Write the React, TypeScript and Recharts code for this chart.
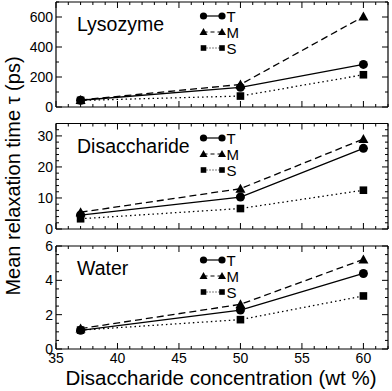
import React from 'react';
import { LineChart, Line, XAxis, YAxis, Legend } from 'recharts';

// ---- data ----
const concentrations = [37, 50, 60];
const seriesNames = ['T', 'M', 'S'];

const lysozymeT = [45, 131, 284];
const lysozymeM = [47, 150, 603];
const lysozymeS = [44, 73, 215];

const disaccharideT = [4.5, 10.3, 26.0];
const disaccharideM = [5.4, 13.0, 29.0];
const disaccharideS = [3.3, 6.6, 12.5];

const waterT = [1.09, 2.27, 4.4];
const waterM = [1.19, 2.6, 5.22];
const waterS = [1.1, 1.71, 3.09];

const xMajorTicks = [35, 40, 45, 50, 55, 60];
const xAllTicks = Array.from({ length: 28 }, (_, i) => 35 + i);

const lysozymeYMajor = [0, 200, 400, 600];
const disaccharideYMajor = [0, 10, 20, 30];
const waterYMajor = [0, 2, 4, 6];

const FONT = '"Liberation Sans", Arial, Helvetica, sans-serif';

const buildRows = (t: number[], m: number[], s: number[]) =>
  concentrations.map((c, i) => ({ x: c, T: t[i], M: m[i], S: s[i] }));

const stepTicks = (max: number, step: number) =>
  Array.from({ length: Math.round(max / step) + 1 }, (_, i) => +(i * step).toFixed(3));

const panels = [
  {
    name: 'Lysozyme',
    rows: buildRows(lysozymeT, lysozymeM, lysozymeS),
    yMax: 700,
    yMajor: lysozymeYMajor,
    yTicks: stepTicks(700, 100),
    top: 0,
    height: 117,
    marginTop: 2,
    xh: 10,
    showX: false,
  },
  {
    name: 'Disaccharide',
    rows: buildRows(disaccharideT, disaccharideM, disaccharideS),
    yMax: 34,
    yMajor: disaccharideYMajor,
    yTicks: stepTicks(34, 2),
    top: 114,
    height: 125,
    marginTop: 9.5,
    xh: 10,
    showX: false,
  },
  {
    name: 'Water',
    rows: buildRows(waterT, waterM, waterS),
    yMax: 6,
    yMajor: waterYMajor,
    yTicks: stepTicks(6, 0.5),
    top: 236,
    height: 153,
    marginTop: 10,
    xh: 40,
    showX: true,
  },
];

// ---- markers ----
const CircleDot = (p: any) =>
  p.cx == null ? <g /> : <circle cx={p.cx} cy={p.cy} r={4.5} fill="#000" stroke="none" />;
const TriDot = (p: any) =>
  p.cx == null ? (
    <g />
  ) : (
    <polygon
      points={`${p.cx - 5},${p.cy + 4} ${p.cx + 5},${p.cy + 4} ${p.cx},${p.cy - 5}`}
      fill="#000"
    />
  );
const SqDot = (p: any) =>
  p.cx == null ? <g /> : <rect x={p.cx - 3.8} y={p.cy - 3.8} width={7.6} height={7.6} fill="#000" />;

// ---- ticks ----
const makeXBottomTick = (showLabels: boolean) => (props: any) => {
  const { x, y, payload } = props;
  const major = xMajorTicks.includes(payload.value);
  return (
    <g>
      <line x1={x} y1={y} x2={x} y2={y - (major ? 6 : 3)} stroke="#000" strokeWidth={1} />
      {showLabels && major && (
        <text x={x} y={y + 14} textAnchor="middle" fontSize={14} fill="#000" fontFamily={FONT}>
          {payload.value}
        </text>
      )}
    </g>
  );
};
const XTopTick = (props: any) => {
  const { x, y, payload } = props;
  const major = xMajorTicks.includes(payload.value);
  return <line x1={x} y1={y} x2={x} y2={y + (major ? 6 : 3)} stroke="#000" strokeWidth={1} />;
};
const makeYLeftTick = (majors: number[]) => (props: any) => {
  const { x, y, payload } = props;
  const major = majors.includes(payload.value);
  return (
    <g>
      <line x1={x} y1={y} x2={x + (major ? 6 : 3)} y2={y} stroke="#000" strokeWidth={1} />
      {major && (
        <text x={x - 3} y={y} dy={5} textAnchor="end" fontSize={14} fill="#000" fontFamily={FONT}>
          {payload.value}
        </text>
      )}
    </g>
  );
};
const makeYRightTick = (majors: number[]) => (props: any) => {
  const { x, y, payload } = props;
  const major = majors.includes(payload.value);
  return <line x1={x} y1={y} x2={x - (major ? 6 : 3)} y2={y} stroke="#000" strokeWidth={1} />;
};

// ---- legend ----
const legendMarker = (name: string, cx: number, cy: number) => {
  if (name === 'T') return <circle key={cx} cx={cx} cy={cy} r={3.6} fill="#000" />;
  if (name === 'M')
    return (
      <polygon
        key={cx}
        points={`${cx - 4},${cy + 3} ${cx + 4},${cy + 3} ${cx},${cy - 4}`}
        fill="#000"
      />
    );
  return <rect key={cx} x={cx - 2.8} y={cy - 2.8} width={5.6} height={5.6} fill="#000" />;
};
const legendDash: Record<string, string | undefined> = { T: undefined, M: '4 3', S: '1 2' };

const PanelLegend = () => (
  <svg width={50} height={52} style={{ display: 'block', overflow: 'visible' }}>
    {seriesNames.map((n, i) => {
      const cy = 10 + i * 16;
      return (
        <g key={n}>
          <line x1={8.5} y1={cy} x2={27} y2={cy} stroke="#000" strokeWidth={1.2} strokeDasharray={legendDash[n]} />
          {legendMarker(n, 8.5, cy)}
          {legendMarker(n, 27, cy)}
          <text x={31.5} y={cy + 5.5} fontSize={15} fill="#000" fontFamily={FONT}>
            {n}
          </text>
        </g>
      );
    })}
  </svg>
);

const Panel = ({ cfg }: { cfg: (typeof panels)[number] }) => (
  <div style={{ position: 'absolute', left: 0, top: cfg.top }}>
    <LineChart
      width={392}
      height={cfg.height}
      data={cfg.rows}
      margin={{ top: cfg.marginTop, right: 4, bottom: 0, left: 6 }}
    >
      <XAxis
        xAxisId="b"
        dataKey="x"
        type="number"
        domain={[35, 62]}
        ticks={xAllTicks}
        interval={0}
        tickSize={0}
        tickMargin={0}
        tickLine={false}
        height={cfg.xh}
        axisLine={{ stroke: '#000', strokeWidth: 1.2 }}
        tick={makeXBottomTick(cfg.showX)}
        allowDataOverflow
      />
      <XAxis
        xAxisId="t"
        dataKey="x"
        type="number"
        orientation="top"
        mirror
        domain={[35, 62]}
        ticks={xAllTicks}
        interval={0}
        tickSize={0}
        tickMargin={0}
        tickLine={false}
        axisLine={{ stroke: '#000', strokeWidth: 1.2 }}
        tick={XTopTick}
        allowDataOverflow
      />
      <YAxis
        yAxisId="l"
        type="number"
        domain={[0, cfg.yMax]}
        ticks={cfg.yTicks}
        interval={0}
        width={50}
        tickSize={0}
        tickMargin={0}
        tickLine={false}
        axisLine={{ stroke: '#000', strokeWidth: 1.2 }}
        tick={makeYLeftTick(cfg.yMajor)}
        allowDataOverflow
      />
      <YAxis
        yAxisId="r"
        type="number"
        orientation="right"
        mirror
        domain={[0, cfg.yMax]}
        ticks={cfg.yTicks}
        interval={0}
        width={10}
        tickSize={0}
        tickMargin={0}
        tickLine={false}
        axisLine={{ stroke: '#000', strokeWidth: 1.2 }}
        tick={makeYRightTick(cfg.yMajor)}
        allowDataOverflow
      />
      <Legend
        layout="vertical"
        align="center"
        verticalAlign="middle"
        content={() => <PanelLegend />}
        wrapperStyle={{ left: 195, top: cfg.marginTop + 4, width: 50, height: 52 }}
      />
      <Line
        xAxisId="b"
        yAxisId="l"
        dataKey="S"
        name="S"
        stroke="#000"
        strokeWidth={1.3}
        strokeDasharray="1.5 3"
        dot={SqDot}
        activeDot={false}
        isAnimationActive={false}
      />
      <Line
        xAxisId="b"
        yAxisId="l"
        dataKey="M"
        name="M"
        stroke="#000"
        strokeWidth={1.3}
        strokeDasharray="7 4"
        dot={TriDot}
        activeDot={false}
        isAnimationActive={false}
      />
      <Line
        xAxisId="b"
        yAxisId="l"
        dataKey="T"
        name="T"
        stroke="#000"
        strokeWidth={1.3}
        dot={CircleDot}
        activeDot={false}
        isAnimationActive={false}
      />
    </LineChart>
  </div>
);

const labelTops = [2, 123.5, 246];

export default function App() {
  return (
    <div style={{ position: 'absolute', left: 0, top: 0, width: 392, height: 391, background: '#fff' }}>
      {panels.map((p) => (
        <Panel key={p.name} cfg={p} />
      ))}
      <svg
        width={392}
        height={391}
        style={{ position: 'absolute', left: 0, top: 0, pointerEvents: 'none' }}
      >
        {panels.map((p, i) => (
          <text key={p.name} x={77} y={labelTops[i] + 29} fontSize={19.5} fill="#000" fontFamily={FONT}>
            {p.name}
          </text>
        ))}
        <text
          transform="translate(20,176) rotate(-90)"
          textAnchor="middle"
          fontSize={20}
          fill="#000"
          fontFamily={FONT}
        >
          Mean relaxation time τ (ps)
        </text>
        <text x={221} y={385} textAnchor="middle" fontSize={20.5} fill="#000" fontFamily={FONT}>
          Disaccharide concentration (wt %)
        </text>
      </svg>
    </div>
  );
}
